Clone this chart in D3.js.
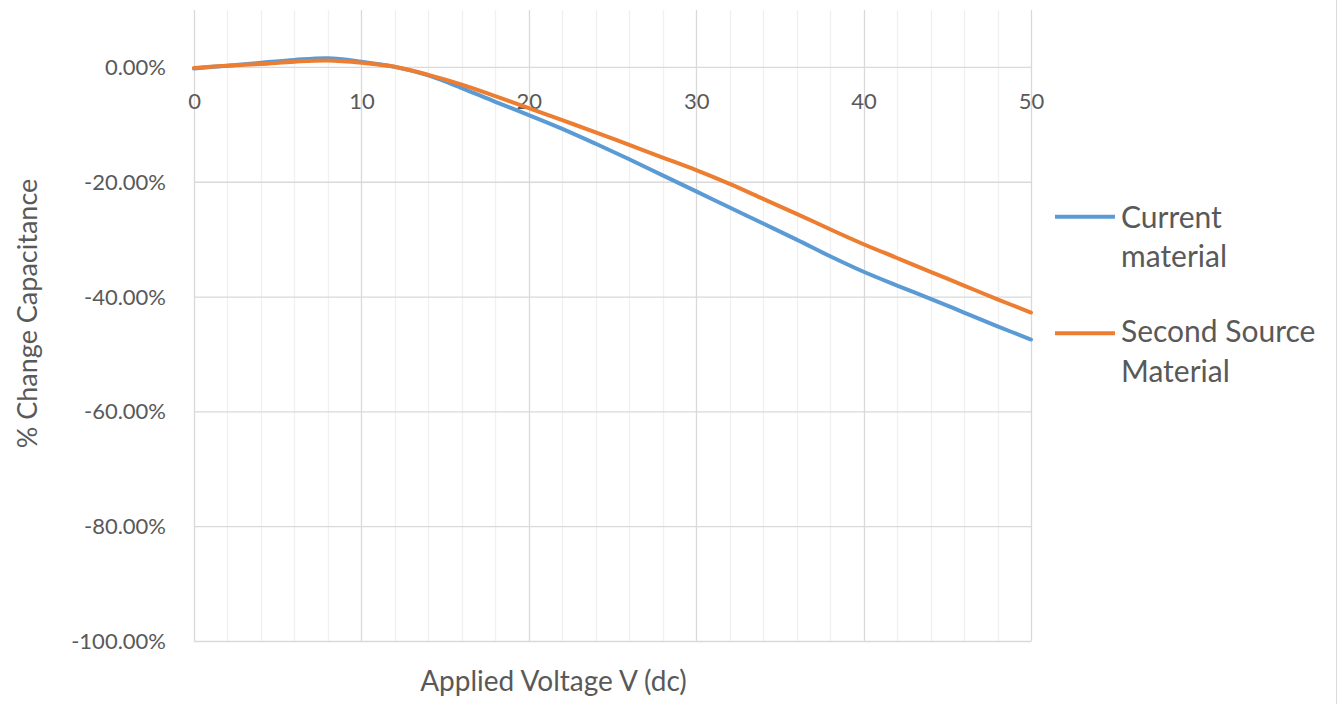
<!DOCTYPE html>
<html><head><meta charset="utf-8">
<script src="https://cdn.jsdelivr.net/npm/d3@7"></script>
<style>
html,body{margin:0;padding:0;background:#fff;}
svg{display:block;font-family:Lato,"Open Sans",sans-serif;}
</style></head>
<body><svg id="c" width="1338" height="704"></svg>
<script>
const voltages = [0,2,4,6,8,10,12,14,16,18,20,22,24,26,28,30,32,34,36,38,40,42,44,46,48,50];
const currentMaterial = [-0.2,0.3,0.8,1.3,1.6,1.0,0.1,-1.4,-3.6,-6.0,-8.3,-10.7,-13.3,-16.0,-18.8,-21.6,-24.4,-27.2,-30.0,-32.9,-35.6,-38.0,-40.3,-42.7,-45.1,-47.4];
const secondSource = [-0.1,0.3,0.6,1.0,1.2,0.8,0.1,-1.3,-3.0,-5.0,-7.1,-9.2,-11.3,-13.5,-15.7,-17.9,-20.3,-22.9,-25.5,-28.2,-30.8,-33.2,-35.6,-38.0,-40.4,-42.7];
const seriesNames = ["Current material","Second Source Material"];
const legendLines = [["Current","material"],["Second Source","Material"]];
const xTicks = [0,10,20,30,40,50];
const xMinorTicks = [2,4,6,8,12,14,16,18,22,24,26,28,32,34,36,38,42,44,46,48];
const yTicks = [0,-20,-40,-60,-80,-100];
const xTitle = "Applied Voltage V (dc)";
const yTitle = "% Change Capacitance";

const colors = ["#5B9BD5","#ED7D31"];
const textColor = "#595959";
const svg = d3.select("#c");
const L=194, R=1031, T=10, B=641.5;
const x = d3.scaleLinear().domain([0,50]).range([L,R]);
const y = d3.scaleLinear().domain([-100,10]).range([B,T]);

// chart border (right edge)
svg.append("line").attr("x1",1336.5).attr("x2",1336.5).attr("y1",0).attr("y2",704)
  .attr("stroke","#D9D9D9").attr("stroke-width",1);

// minor vertical grid
svg.append("g").selectAll("line").data(xMinorTicks).join("line")
  .attr("x1",d=>Math.round(x(d))+0.5).attr("x2",d=>Math.round(x(d))+0.5)
  .attr("y1",T).attr("y2",B).attr("stroke","#F0F0F0").attr("stroke-width",1.3);
// major vertical grid
svg.append("g").selectAll("line").data(xTicks).join("line")
  .attr("x1",d=>Math.round(x(d))+0.5).attr("x2",d=>Math.round(x(d))+0.5)
  .attr("y1",T).attr("y2",B).attr("stroke","#D9D9D9").attr("stroke-width",1.3);
// horizontal grid
svg.append("g").selectAll("line").data(yTicks).join("line")
  .attr("x1",L).attr("x2",R)
  .attr("y1",d=>y(d)).attr("y2",d=>y(d)).attr("stroke","#D9D9D9").attr("stroke-width",1.3);

// y axis labels
const fmt = d=> (d3.format(".2f")(d)+"%").replace("\u2212","-");
svg.append("g").attr("transform",`translate(${L},0)`)
  .call(d3.axisLeft(y).tickValues(yTicks).tickFormat(fmt).tickSize(0).tickPadding(28))
  .call(g=>g.select(".domain").remove())
  .call(g=>g.selectAll("text").attr("fill",textColor).attr("font-size",22).attr("font-family","Lato"));

// x axis labels (at y=0)
svg.append("g").attr("transform",`translate(0,${y(0)})`)
  .call(d3.axisBottom(x).tickValues(xTicks).tickSize(0).tickPadding(26))
  .call(g=>g.select(".domain").remove())
  .call(g=>g.selectAll("text").attr("fill",textColor).attr("font-size",22).attr("font-family","Lato"));

// lines
const line = d3.line().x((d,i)=>x(voltages[i])).y(d=>y(d)).curve(d3.curveCatmullRom.alpha(0.5));
[currentMaterial, secondSource].forEach((s,k)=>{
  svg.append("path").datum(s).attr("d",line).attr("fill","none")
    .attr("stroke",colors[k]).attr("stroke-width",4).attr("stroke-linecap","round");
});

// axis titles
svg.append("text").attr("x",553.5).attr("y",691).attr("text-anchor","middle")
  .attr("fill",textColor).attr("font-size",28).text(xTitle);
svg.append("text").attr("transform","translate(37,313.5) rotate(-90)").attr("text-anchor","middle")
  .attr("fill",textColor).attr("font-size",27).text(yTitle);

// legend
const legY = [216.7, 333.3];
const legBase = [[227.7,267],[341.7,381.7]];
seriesNames.forEach((n,k)=>{
  svg.append("line").attr("x1",1055).attr("x2",1115).attr("y1",legY[k]).attr("y2",legY[k])
    .attr("stroke",colors[k]).attr("stroke-width",4);
  legendLines[k].forEach((t,j)=>{
    svg.append("text").attr("x",1121).attr("y",legBase[k][j]).attr("fill",textColor)
      .attr("font-size",30).text(t);
  });
});
</script></body></html>
